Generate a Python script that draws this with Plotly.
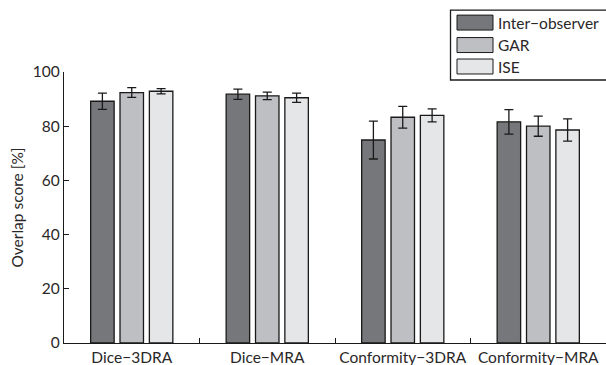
import plotly.graph_objects as go

categories = ["Dice\u22123DRA", "Dice\u2212MRA", "Conformity\u22123DRA", "Conformity\u2212MRA"]
series_names = ["Inter\u2212observer", "GAR", "ISE"]
inter_vals = [89.2, 91.8, 74.9, 81.6]
inter_err = [3.0, 1.9, 7.0, 4.5]
gar_vals = [92.4, 91.2, 83.3, 80.0]
gar_err = [1.8, 1.4, 4.0, 3.7]
ise_vals = [92.9, 90.5, 84.0, 78.6]
ise_err = [1.0, 1.7, 2.4, 4.1]
y_ticks = [0, 20, 40, 60, 80, 100]

colors = ["#76777b", "#bebfc3", "#e5e6e8"]
FONT = "Lato"
FS = 15.5
TXT = "#2a2728"

W, H = 606, 365
L, R, T, B = 64, 0, 71.5, 22
pw, ph = W - L - R, H - T - B

fig = go.Figure()
for name, vals, errs, col in zip(series_names, [inter_vals, gar_vals, ise_vals],
                                 [inter_err, gar_err, ise_err], colors):
    fig.add_trace(go.Bar(
        x=categories, y=vals, name=name, marker=dict(color=col, line=dict(color="#1a1a1a", width=1.3)),
        error_y=dict(type="data", array=errs, visible=True, color="#1a1a1a", thickness=1.3, width=4.5),
        showlegend=False,
    ))

def px2paper(x, y):
    return (x - L) / pw, (H - B - y) / ph

shapes = []
annotations = []
# legend box
x0, y0 = px2paper(450.5, 9.5)
x1, y1 = px2paper(620, 79.5)
shapes.append(dict(type="rect", xref="paper", yref="paper", x0=x0, y0=y1, x1=x1, y1=y0,
                   line=dict(color="#1a1a1a", width=1.3), fillcolor="white", layer="above"))
rows = [22, 44.5, 66]
for name, col, cy in zip(series_names, colors, rows):
    sx0, sy0 = px2paper(457, cy - 7.5)
    sx1, sy1 = px2paper(493, cy + 7.5)
    shapes.append(dict(type="rect", xref="paper", yref="paper", x0=sx0, y0=sy1, x1=sx1, y1=sy0,
                       line=dict(color="#1a1a1a", width=1), fillcolor=col, layer="above"))
    tx, ty = px2paper(496, cy)
    annotations.append(dict(xref="paper", yref="paper", x=tx, y=ty, text=name, showarrow=False,
                            xanchor="left", yanchor="middle", font=dict(family=FONT, size=FS, color=TXT)))

fig.update_layout(
    width=W, height=H,
    margin=dict(l=L, r=R, t=T, b=B, pad=0, autoexpand=False),
    paper_bgcolor="white", plot_bgcolor="white",
    barmode="group", bargap=0.35, bargroupgap=0.2,
    font=dict(family=FONT, size=FS, color=TXT),
    shapes=shapes, annotations=annotations,
    xaxis=dict(type="category", tickson="boundaries", ticks="inside", ticklen=5, tickcolor="#1a1a1a",
               showline=True, linecolor="#1a1a1a", linewidth=1.3, showgrid=False, zeroline=False,
               tickangle=0, automargin=False,
               range=[-0.5, 3.5], tickfont=dict(family=FONT, size=FS, color=TXT)),
    yaxis=dict(range=[0, 100], tickvals=y_ticks, ticks="inside", ticklen=5, tickcolor="#1a1a1a",
               showline=True, linecolor="#1a1a1a", linewidth=1.3, showgrid=False, zeroline=False,
               automargin=False,
               title=dict(text="Overlap score [%]", standoff=5, font=dict(family=FONT, size=FS, color=TXT)),
               tickfont=dict(family=FONT, size=FS, color=TXT)),
)

fig.write_html("out.html")
